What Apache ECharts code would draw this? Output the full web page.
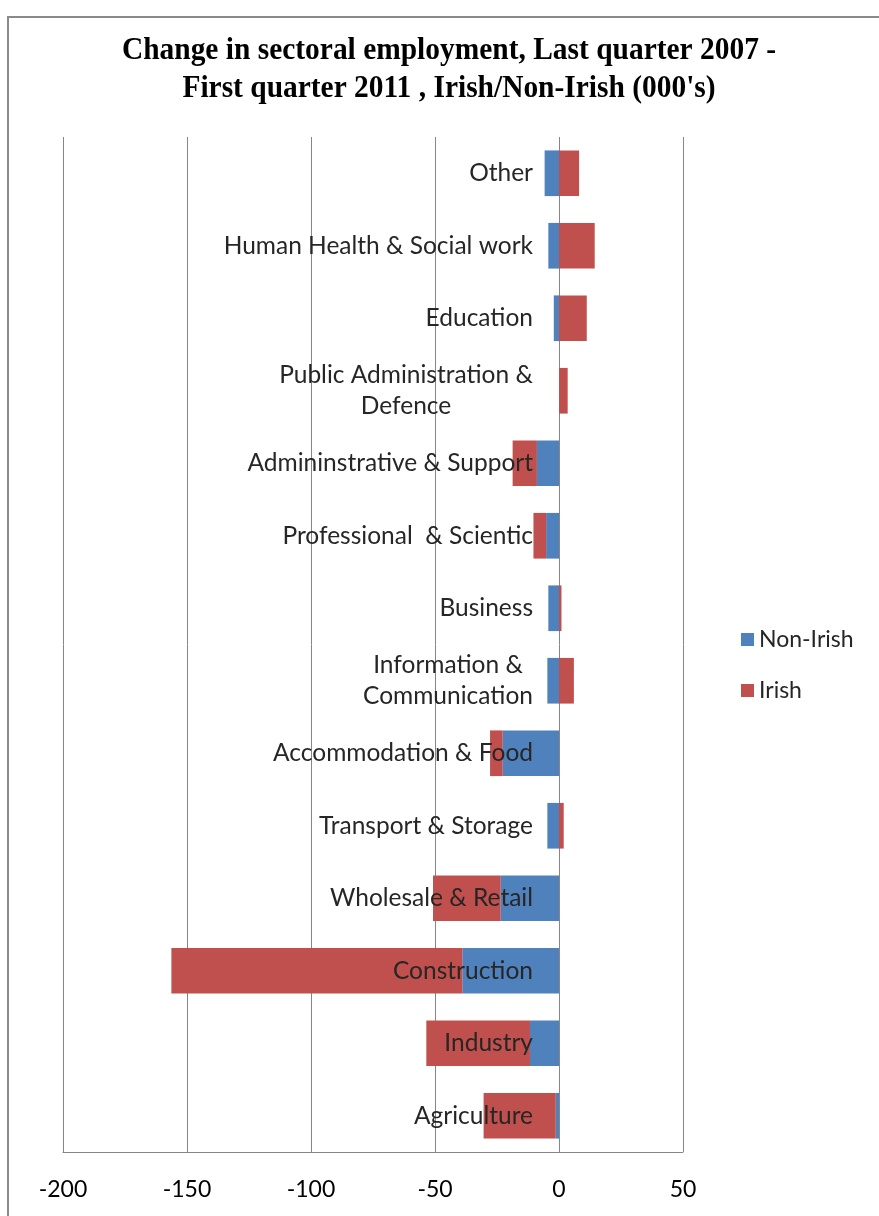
<!DOCTYPE html>
<html>
<head>
<meta charset="utf-8">
<script src="https://cdn.jsdelivr.net/npm/echarts@6/dist/echarts.min.js"></script>
<style>
  html, body { margin: 0; padding: 0; background: #fff; }
  #chart { width: 879px; height: 1216px; }
</style>
</head>
<body>
<div id="chart"></div>
<script>
// Sectors, listed bottom to top
const categories = [
  'Agriculture',
  'Industry',
  'Construction',
  'Wholesale & Retail',
  'Transport & Storage',
  'Accommodation & Food',
  'Information &\nCommunication',
  'Business',
  'Professional  & Scientic',
  'Admininstrative & Support',
  'Public Administration &\nDefence',
  'Education',
  'Human Health & Social work',
  'Other'
];
// Change in employment, thousands
const nonIrish = [-1.3, -11.7, -39, -23.5, -4.7, -22.7, -4.7, -4.3, -5.2, -8.9, 0, -2.1, -4.3, -5.8];
const irish = [-29.1, -41.8, -117.3, -27.3, 1.9, -5.1, 6, 1, -5.1, -9.8, 3.5, 11.2, 14.4, 8.1];
const xTicks = [-200, -150, -100, -50, 0, 50];
const titleLines = [
  'Change in sectoral employment, Last quarter 2007 -',
  "First quarter 2011 , Irish/Non-Irish (000's)"
];

const labelFont = 'Lato';
const labelSize = 24.5;
const labelColor = '#262626';

// plot box and value range
const plot = { left: 63, right: 196, top: 137, bottom: 64 };
const xMin = -200, xMax = 50;
// sector names sit just left of the zero line
const zeroX = plot.left + (0 - xMin) / (xMax - xMin) * (879 - plot.left - plot.right);
const labelGap = 26;

// width of the widest line in a label, so multi-line labels can be centred line by line
const measureCtx = document.createElement('canvas').getContext('2d');
measureCtx.font = labelSize + 'px ' + labelFont;
function widest(text) {
  return Math.ceil(Math.max(...text.split('\n').map(s => measureCtx.measureText(s).width)));
}
const multiLine = categories.filter(c => c.includes('\n'));
const rich = {};
multiLine.forEach((c, i) => {
  rich['m' + i] = {
    width: widest(c), align: 'center',
    fontFamily: labelFont, fontSize: labelSize, lineHeight: 31, color: labelColor
  };
});

const chart = echarts.init(document.getElementById('chart'), null, { renderer: 'canvas' });

chart.setOption({
  animation: false,
  backgroundColor: '#fff',
  graphic: [
    {
      type: 'rect',
      shape: { x: 8, y: 17, width: 1000, height: 1400 },
      style: { fill: 'none', stroke: '#8a8a8a', lineWidth: 2 },
      silent: true
    },
    // two-line title in a narrow serif face
    ...titleLines.map((t, i) => ({
      type: 'text',
      x: 449,
      y: 51 + i * 38,
      scaleX: 0.92,
      style: {
        text: t,
        align: 'center',
        verticalAlign: 'middle',
        fontFamily: 'Liberation Serif',
        fontWeight: 'bold',
        fontSize: 32,
        fill: '#000'
      },
      silent: true
    }))
  ],
  legend: {
    orient: 'vertical',
    left: 736,
    top: 623,
    itemWidth: 13,
    itemHeight: 13,
    itemGap: 28,
    icon: 'rect',
    textStyle: { fontFamily: labelFont, fontSize: 23, color: labelColor },
    data: ['Non-Irish', 'Irish']
  },
  grid: Object.assign({ containLabel: false, outerBoundsMode: 'none' }, plot),
  xAxis: {
    type: 'value',
    min: xMin,
    max: xMax,
    interval: 50,
    axisLine: { show: true, onZero: false, lineStyle: { color: '#868686', width: 1 } },
    axisTick: { show: false },
    splitLine: { show: true, lineStyle: { color: '#868686', width: 1 } },
    axisLabel: {
      margin: 26,
      fontFamily: labelFont,
      fontSize: 23,
      color: '#000',
      formatter: v => (xTicks.includes(v) ? String(v) : '')
    }
  },
  yAxis: {
    type: 'category',
    data: categories,
    z: 10,
    axisLine: { show: false },
    axisTick: { show: false },
    axisLabel: {
      // negative margin moves the labels from the plot's left edge in to the zero line
      margin: -(zeroX - plot.left - labelGap),
      align: 'right',
      fontFamily: labelFont,
      fontSize: labelSize,
      lineHeight: 31,
      color: labelColor,
      formatter: v => {
        const k = multiLine.indexOf(v);
        if (k < 0) return v;
        return v.split('\n').map(s => '{m' + k + '|' + s + '}').join('\n');
      },
      rich: rich
    }
  },
  series: [
    {
      name: 'Non-Irish',
      type: 'bar',
      stack: 'total',
      barCategoryGap: '37%',
      itemStyle: { color: '#4F81BD' },
      data: nonIrish
    },
    {
      name: 'Irish',
      type: 'bar',
      stack: 'total',
      barCategoryGap: '37%',
      itemStyle: { color: '#C0504D' },
      data: irish
    }
  ]
});
</script>
</body>
</html>
